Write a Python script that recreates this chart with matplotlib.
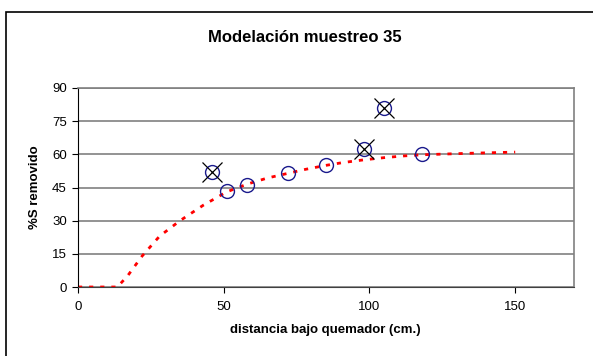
import matplotlib
matplotlib.use("Agg")
import matplotlib.pyplot as plt
from matplotlib.patches import Rectangle

plt.rcParams['font.family'] = ['Liberation Sans', 'DejaVu Sans']

# measured points
dist = [46, 51, 58, 72, 85, 98, 105, 118]
removido = [52, 43.5, 46, 51.5, 55, 62.5, 81, 60]

# points discarded (marked with X)
dist_out = [46, 98, 105]
removido_out = [52, 62.5, 81]

# model curve
curve_x = [0, 13.5, 17, 22, 28, 35, 43, 51, 58, 65, 72, 78, 85, 91, 98, 105, 112, 118, 125, 135, 150]
curve_y = [0, 0, 5, 14, 23, 30, 37, 43, 46.5, 49.3, 51.4, 53.2, 55, 56.3, 57.5, 58.5, 59.3, 59.8, 60.1, 60.5, 61]

fig = plt.figure(figsize=(5.93, 3.56), dpi=100)
ax = fig.add_axes([78 / 593, 1 - 287 / 356, (573.5 - 78) / 593, (287 - 88) / 356])

# outer chart border
fig.patches.append(Rectangle((6 / 593, -0.1), 1.1, (356 - 12) / 356 + 0.1,
                             transform=fig.transFigure, fill=False,
                             edgecolor='black', linewidth=1.2))

ax.plot(curve_x, curve_y, color='red', linestyle=(0, (1.5, 2.5)), linewidth=2, zorder=2)
ax.plot(dist, removido, linestyle='none', marker='o', markersize=10,
        markerfacecolor='none', markeredgecolor='#1a1a8c', markeredgewidth=1, zorder=3)
ax.plot(dist_out, removido_out, linestyle='none', marker='x', markersize=14,
        color='black', markeredgewidth=0.9, zorder=4)

ax.set_xlim(0, 170)
ax.set_ylim(0, 90)
ax.set_xticks([0, 50, 100, 150])
ax.set_yticks(range(0, 91, 15))
ax.yaxis.grid(True, color='#808080', linewidth=1.2)
ax.set_axisbelow(True)

for s in ['top', 'right']:
    ax.spines[s].set_color('#808080')
    ax.spines[s].set_linewidth(1.2)
ax.spines['left'].set_color('black')
ax.spines['bottom'].set_color('#404040')

ax.tick_params(axis='both', labelsize=9.5, direction='out', length=4, width=0.8, pad=4)
ax.tick_params(axis='x', pad=6)

ax.set_xlabel('distancia bajo quemador (cm.)', fontsize=9.5, fontweight='bold', labelpad=8)
ax.set_ylabel('%S removido', fontsize=9.5, fontweight='bold', labelpad=8)
fig.text(305 / 593, 1 - 38 / 356, 'Modelación muestreo 35', ha='center', va='center',
         fontsize=12, fontweight='bold')

fig.savefig('out.png', dpi=100)
